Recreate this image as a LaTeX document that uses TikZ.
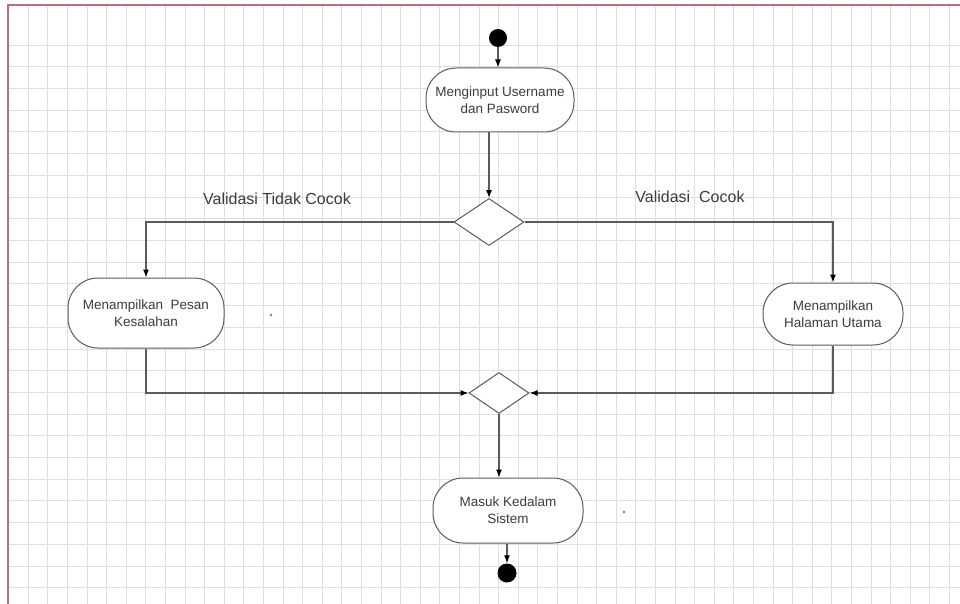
\documentclass[tikz,border=0pt]{standalone}
\usepackage{fontspec}
\setmainfont{Liberation Sans}
\usetikzlibrary{shapes.geometric,arrows.meta}
\definecolor{linecol}{RGB}{90,90,90}
\definecolor{textcol}{RGB}{60,60,60}
\definecolor{gridcol}{RGB}{222,222,222}
\definecolor{bordercol}{RGB}{185,110,120}
\tikzset{
  activity/.style={draw=linecol, line width=1pt, fill=white, rounded corners=30pt,
    align=center, text=textcol, font=\fontsize{13.5}{17}\selectfont, inner sep=2pt},
  decision/.style={draw=linecol, line width=1pt, fill=white, diamond, inner sep=0pt},
  flow/.style={draw=linecol, line width=1.1pt, -{Latex[length=8pt,width=6pt,color=black]}},
  guard/.style={text=textcol, font=\fontsize{16}{19}\selectfont},
  terminal/.style={circle, fill=black, inner sep=0pt},
}
\begin{document}
\begin{tikzpicture}[x=1pt,y=-1pt]
\useasboundingbox (0,0) rectangle (960,604);
\fill[white] (0,0) rectangle (960,604);
% grid
\foreach \i in {0,...,47} {
  \draw[gridcol, line width=0.6pt] ({28+19.6*\i},5) -- ({28+19.6*\i},604);
}
\foreach \j in {0,...,26} {
  \draw[gridcol, line width=0.6pt] (8,{45+21.7*\j}) -- (960,{45+21.7*\j});
}
\draw[bordercol, line width=1.5pt] (960,5) -- (8,5) -- (8,604);

% nodes
\node[terminal, minimum size=18pt] (start) at (498,38) {};
\node[activity, minimum width=148pt, minimum height=64pt] (n1) at (500,100) {Menginput Username\\dan Pasword};
\node[decision, minimum width=70pt, minimum height=47pt, aspect=1.49] (d1) at (489,222) {};
\node[activity, minimum width=156pt, minimum height=70pt] (n2) at (146,313) {Menampilkan\ \ Pesan\\Kesalahan};
\node[activity, minimum width=140pt, minimum height=62pt] (n3) at (833,314) {Menampilkan\\Halaman Utama};
\node[decision, minimum width=60pt, minimum height=41pt, aspect=1.46] (d2) at (499,393) {};
\node[activity, minimum width=150pt, minimum height=65pt] (n4) at (508,510.5) {Masuk Kedalam\\Sistem};
\node[terminal, minimum size=19pt] (end) at (507,573) {};

% guards
\node[guard] (g1) at (277,199) {Validasi Tidak Cocok};
\node[guard] (g2) at (690,197) {Validasi\ \ Cocok};

% small stray dots
\fill[gray] (271,315) circle (1.3pt);
\fill[gray] (624,512) circle (1.3pt);

% connectors
\draw[flow] (start) -- (start |- n1.north);
\draw[flow] (d1.north |- n1.south) -- (d1.north);
\draw[flow] (d1.west) -| (n2.north);
\draw[flow] (d1.east) -| (n3.north);
\draw[flow] (n2.south) |- (d2.west);
\draw[flow] (n3.south) |- (d2.east);
\draw[flow] (d2.south) -- (d2.south |- n4.north);
\draw[flow] (end |- n4.south) -- (end.north);
\end{tikzpicture}
\end{document}
